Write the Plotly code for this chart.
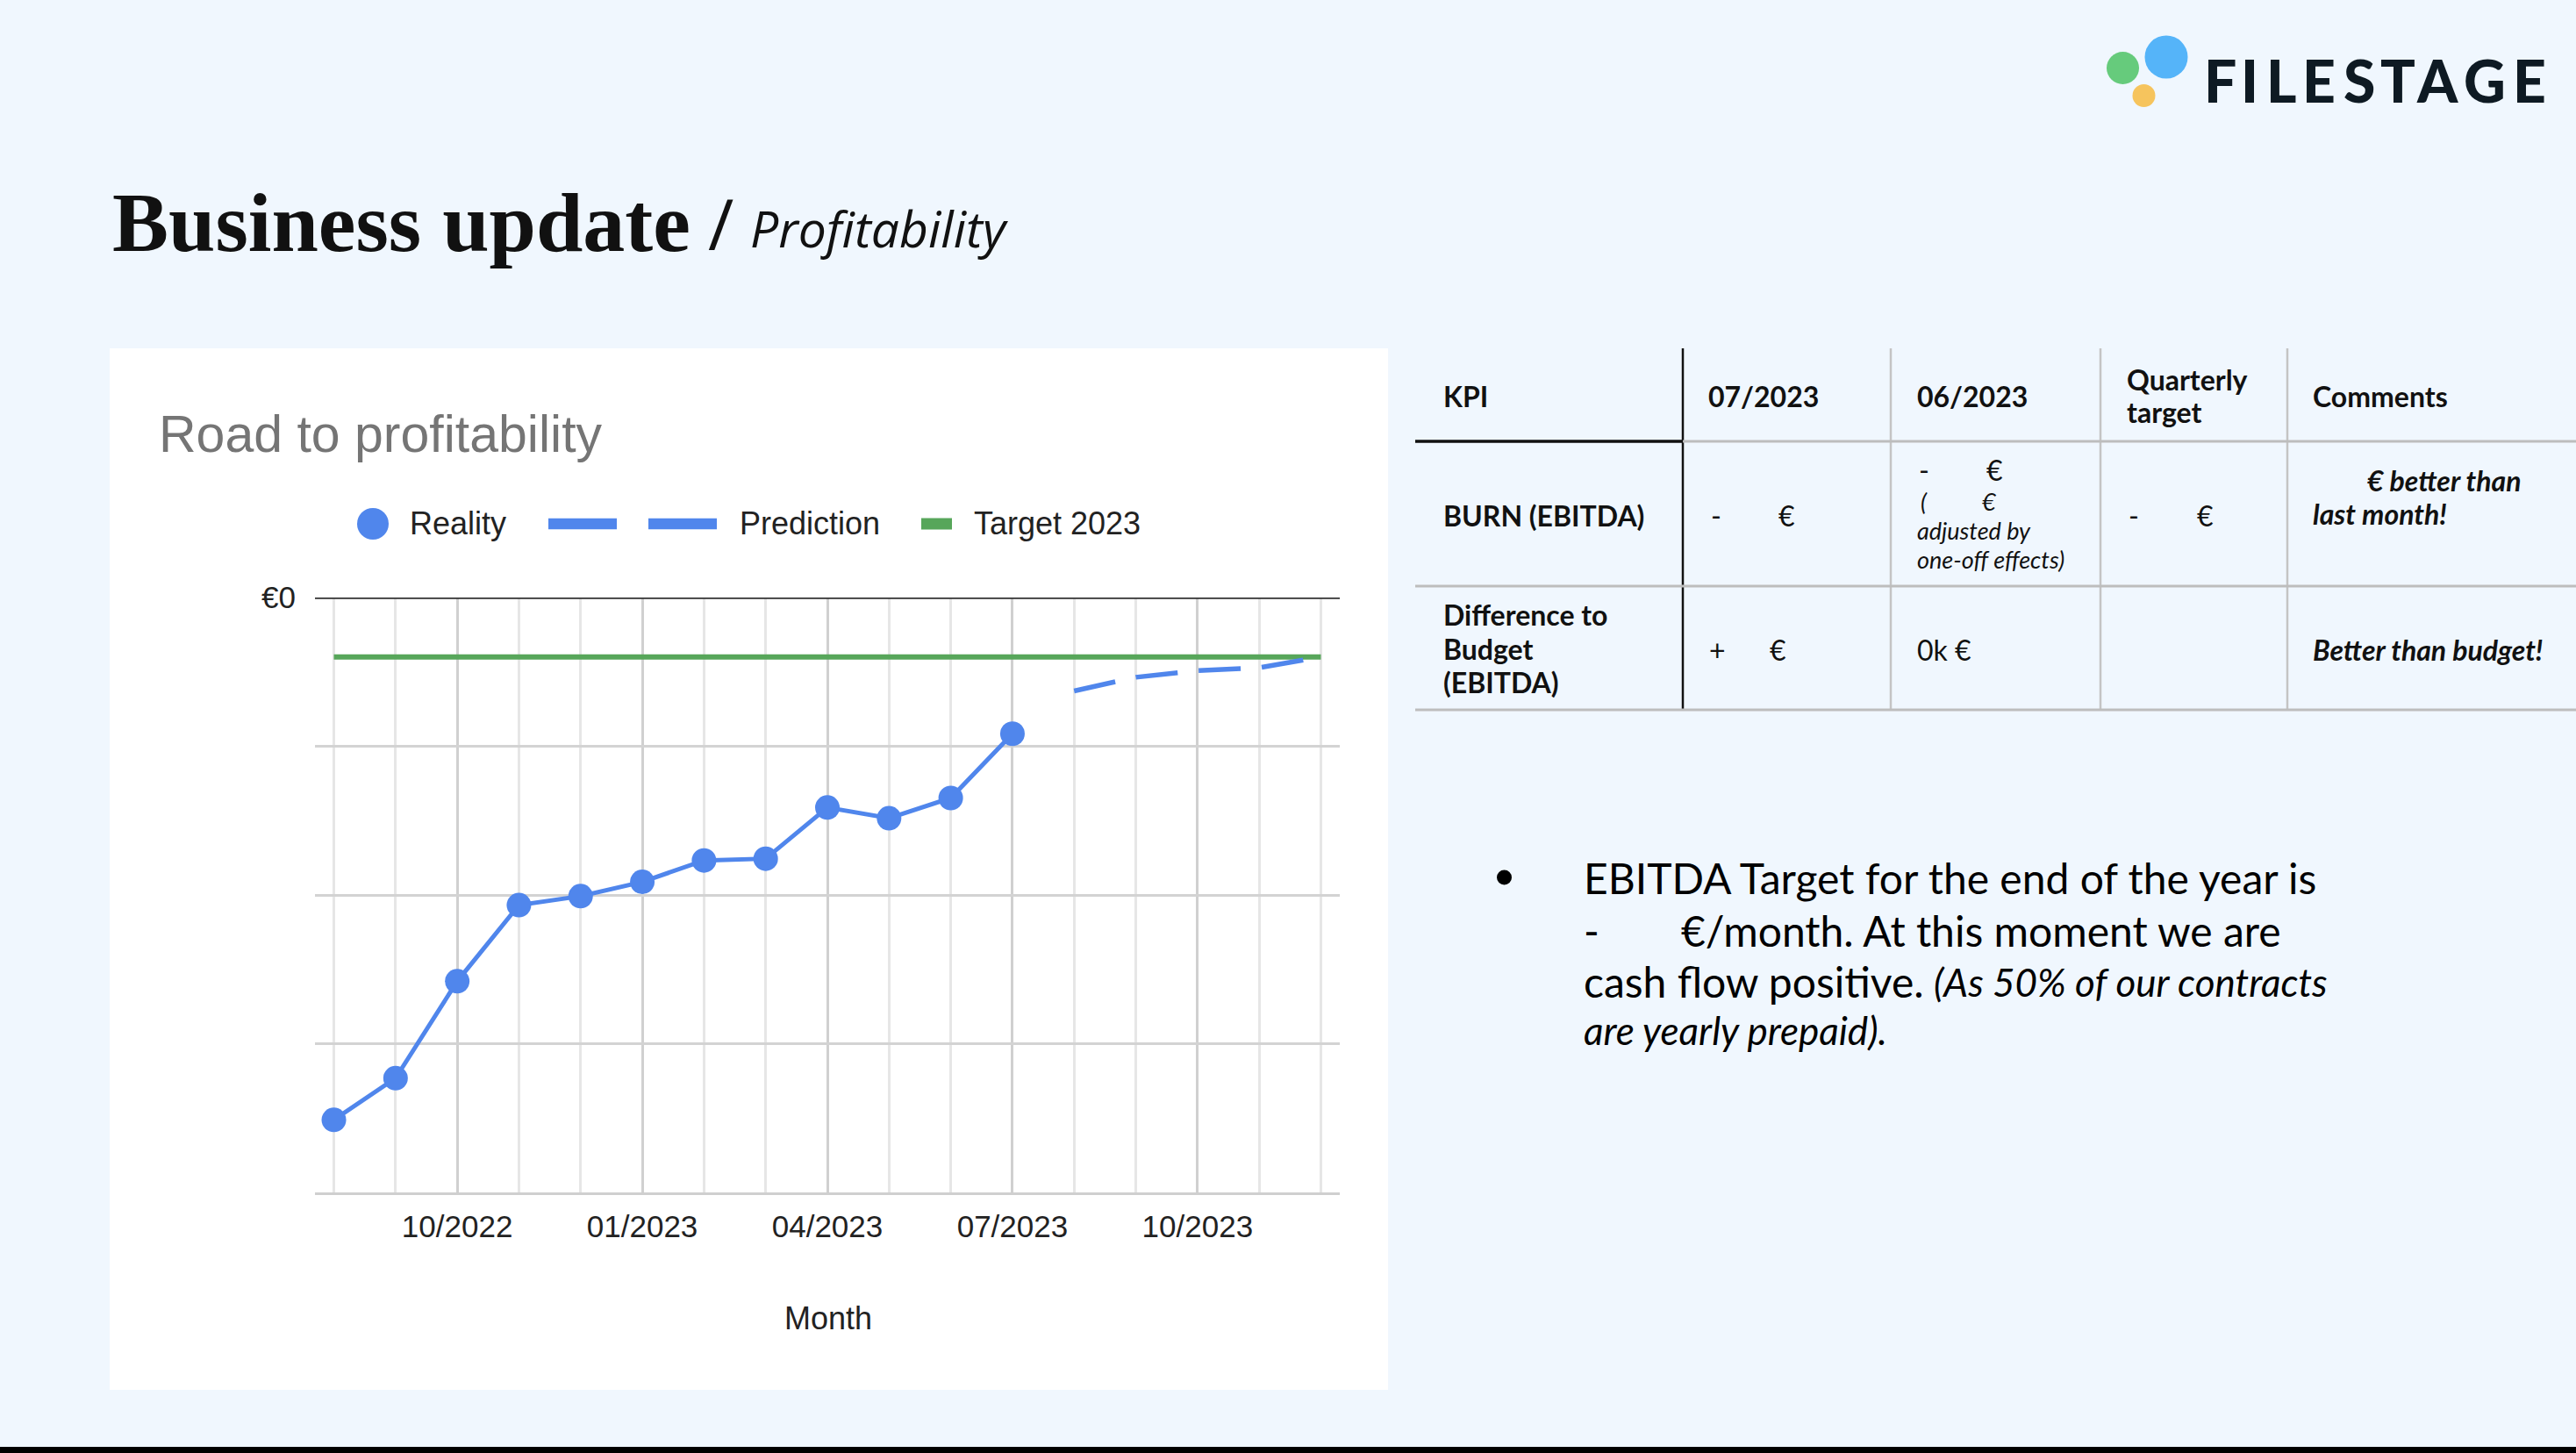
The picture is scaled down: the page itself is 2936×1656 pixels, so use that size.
import plotly.graph_objects as go

W, H = 2936, 1656

# ---------------- data ----------------
months = ["08/2022", "09/2022", "10/2022", "11/2022", "12/2022", "01/2023", "02/2023",
          "03/2023", "04/2023", "05/2023", "06/2023", "07/2023", "08/2023", "09/2023",
          "10/2023", "11/2023", "12/2023"]
reality_months = ["08/2022", "09/2022", "10/2022", "11/2022", "12/2022", "01/2023",
                  "02/2023", "03/2023", "04/2023", "05/2023", "06/2023", "07/2023"]
reality = [-87800, -80800, -64500, -51700, -50200, -47800, -44200, -43900,
           -35300, -37100, -33700, -22900]
prediction_months = ["08/2023", "09/2023", "10/2023", "11/2023", "12/2023"]
prediction = [-15700, -13400, -12300, -11800, -10000]
target = [-10000, -10000, -10000, -10000, -10000, -10000, -10000, -10000, -10000,
          -10000, -10000, -10000, -10000, -10000, -10000, -10000, -10000]
x_tick_labels = ["10/2022", "01/2023", "04/2023", "07/2023", "10/2023"]
y_tick_vals = [0, -25000, -50000, -75000, -100000]
y_tick_text = ["€0", "", "", "", ""]

# ---------------- helpers ----------------
def X(p):
    return p / W

def Y(p):
    return 1 - p / H

BLUE = "#5086EC"
GREEN = "#57A65A"
ARIAL = "Liberation Sans, Arial, sans-serif"
LATO = "Lato, sans-serif"

shapes = []
annotations = []

def rect(x0, y0, x1, y1, color, layer="above"):
    shapes.append(dict(type="rect", xref="paper", yref="paper", x0=X(x0), x1=X(x1),
                       y0=Y(y1), y1=Y(y0), fillcolor=color, line=dict(width=0), layer=layer))

def circle(cx, cy, d, color):
    r = d / 2
    shapes.append(dict(type="circle", xref="paper", yref="paper", x0=X(cx - r), x1=X(cx + r),
                       y0=Y(cy + r), y1=Y(cy - r), fillcolor=color, line=dict(width=0)))

def hline(x0, x1, y, color, w):
    shapes.append(dict(type="line", xref="paper", yref="paper", x0=X(x0), x1=X(x1),
                       y0=Y(y), y1=Y(y), line=dict(color=color, width=w)))

def vline(x, y0, y1, color, w):
    shapes.append(dict(type="line", xref="paper", yref="paper", x0=X(x), x1=X(x),
                       y0=Y(y0), y1=Y(y1), line=dict(color=color, width=w)))

def txt(s, x, y, size, family, color="#111111", anchor="left", weight="normal", style="normal"):
    annotations.append(dict(text=s, x=X(x), y=Y(y), xref="paper", yref="paper",
                            xanchor=anchor, yanchor="middle", showarrow=False, borderpad=0,
                            font=dict(size=size, family=family, color=color,
                                      weight=weight, style=style)))

# ---------------- slide decoration ----------------
rect(125, 397, 1582, 1584, "#FFFFFF", layer="below")      # chart panel
rect(0, 1649, W, H, "#000000")                              # bottom bar

# logo
circle(2419.5, 77.5, 37, "#66CB7C")
circle(2469, 65, 49, "#55B4F9")
circle(2443.5, 109, 26, "#F6C45D")
logo_letters = ["F", "I", "L", "E", "S", "T", "A", "G", "E"]
logo_centers = [2530.7, 2564.4, 2600.4, 2642.9, 2688.5, 2732.9, 2778.4, 2831.8, 2882.9]
for ch, cx in zip(logo_letters, logo_centers):
    txt(ch, cx, 91, 66, LATO, color="#0E1A23", anchor="center", weight=900)

# slide title
txt("Business update", 127, 253.5, 96, "Liberation Serif, serif", color="#111111", weight="bold")
txt("/", 806, 253, 80, "Open Sans, sans-serif", color="#111111")
txt("Profitability", 854, 260, 57, "Open Sans, sans-serif", color="#111111", style="italic")

# chart title + legend
txt("Road to profitability", 180, 495, 59, ARIAL, color="#757575")
circle(425, 597, 36, BLUE)
txt("Reality", 466, 597, 36, ARIAL, color="#222222")
rect(625, 590.7, 703, 603.3, BLUE)
rect(739, 590.7, 817, 603.3, BLUE)
txt("Prediction", 842, 597, 36, ARIAL, color="#222222")
rect(1050, 590.5, 1085, 603.5, GREEN)
txt("Target 2023", 1109, 597, 36, ARIAL, color="#222222")
txt("Month", 944, 1502, 36, ARIAL, color="#222222", anchor="center")

# ---------------- KPI table ----------------
TL, TR = 1613, W
vline(1918, 397, 809, "#111111", 2.5)
for vx in [2155, 2394, 2607]:
    vline(vx, 397, 809, "#C4C4C4", 2.5)
hline(1918, TR, 503, "#BDBDBD", 3)
hline(TL, 1918, 503, "#111111", 3.5)
hline(TL, TR, 668, "#BDBDBD", 3)
hline(TL, TR, 809, "#BDBDBD", 3)

TS = 32
# header
txt("KPI", 1644, 451, TS, LATO, weight="bold")
txt("07/2023", 1946, 451, TS, LATO, weight="bold")
txt("06/2023", 2184, 451, TS, LATO, weight="bold")
txt("Quarterly", 2423, 432, TS, LATO, weight="bold")
txt("target", 2423, 469, TS, LATO, weight="bold")
txt("Comments", 2635, 451, TS, LATO, weight="bold")
# row 1
txt("BURN (EBITDA)", 1644, 587, TS, LATO, weight="bold")
txt("-", 1949, 587, TS, LATO)
txt("€", 2026, 587, TS, LATO)
txt("-", 2186, 535, TS, LATO)
txt("€", 2263, 535, TS, LATO)
txt("(", 2188, 571, 27, LATO, style="italic")
txt("€", 2258, 571, 27, LATO, style="italic")
txt("adjusted by", 2184, 605, 27, LATO, style="italic")
txt("one-off effects)", 2184, 638, 27, LATO, style="italic")
txt("-", 2425, 587, TS, LATO)
txt("€", 2503, 587, TS, LATO)
txt("€ better than", 2697, 547, TS, LATO, weight="bold", style="italic")
txt("last month!", 2635, 585, TS, LATO, weight="bold", style="italic")
# row 2
txt("Difference to", 1644, 700, TS, LATO, weight="bold")
txt("Budget", 1644, 739, TS, LATO, weight="bold")
txt("(EBITDA)", 1644, 777, TS, LATO, weight="bold")
txt("+", 1947, 740, TS, LATO)
txt("€", 2016, 740, TS, LATO)
txt("0k €", 2184, 740, TS, LATO)
txt("Better than budget!", 2635, 740, TS, LATO, weight="bold", style="italic")

# ---------------- bullet text ----------------
circle(1714.5, 1000, 17, "#000000")
BS = 48
BI = 44
txt("EBITDA Target for the end of the year is", 1804, 1000, BS, LATO, color="#000000")
txt("-", 1804, 1060, BS, LATO, color="#000000")
txt("€/month. At this moment we are", 1915, 1060, BS, LATO, color="#000000")
txt("cash flow positive.", 1804, 1118.5, BS, LATO, color="#000000")
txt("(As 50% of our contracts", 2203, 1118.5, BI, LATO, color="#000000", style="italic")
txt("are yearly prepaid).", 1804, 1173.5, BI, LATO, color="#000000", style="italic")

# ---------------- chart ----------------
xr = [months.index(m) for m in reality_months]
xp = [months.index(m) for m in prediction_months]
xt = list(range(len(months)))
tickvals = [months.index(m) for m in x_tick_labels]

fig = go.Figure()
fig.add_trace(go.Scatter(x=xt, y=target, mode="lines", name="Target 2023",
                         line=dict(color=GREEN, width=6), hoverinfo="skip"))
fig.add_trace(go.Scatter(x=xp, y=prediction, mode="lines", name="Prediction",
                         line=dict(color=BLUE, width=5.5, dash="48px,24px")))
fig.add_trace(go.Scatter(x=xr, y=reality, mode="lines+markers", name="Reality",
                         line=dict(color=BLUE, width=5),
                         marker=dict(color=BLUE, size=28)))

# zero line (€0)
shapes.append(dict(type="line", xref="paper", yref="y", x0=X(359), x1=X(1527), y0=0, y1=0,
                   line=dict(color="#333333", width=3.5), layer="above"))

fig.update_layout(
    width=W, height=H,
    margin=dict(l=0, r=0, t=0, b=0, pad=0, autoexpand=False),
    paper_bgcolor="#F0F7FE",
    plot_bgcolor="#FFFFFF",
    showlegend=False,
    shapes=shapes,
    annotations=annotations,
    xaxis=dict(
        domain=[X(359), X(1527)],
        range=[-0.306, len(months) - 1 + 0.306],
        tickmode="array", tickvals=tickvals, ticktext=x_tick_labels,
        showgrid=True, gridcolor="#D0D0D0", gridwidth=3,
        minor=dict(tickmode="array", tickvals=xt, showgrid=True,
                   gridcolor="#E6E6E6", gridwidth=3, ticks=""),
        ticks="outside", ticklen=6, tickcolor="rgba(0,0,0,0)",
        showline=True, linecolor="#CFCFCF", linewidth=3,
        zeroline=False, automargin=False,
        tickfont=dict(family=ARIAL, size=35, color="#222222"),
        fixedrange=True,
    ),
    yaxis=dict(
        domain=[Y(1359), Y(681)],
        range=[-100000, 0],
        tickmode="array", tickvals=y_tick_vals, ticktext=y_tick_text,
        showgrid=True, gridcolor="#D3D3D3", gridwidth=3,
        zeroline=False, showline=False, automargin=False,
        ticks="outside", ticklen=14, tickcolor="rgba(0,0,0,0)",
        tickfont=dict(family=ARIAL, size=35, color="#222222"),
        fixedrange=True,
    ),
)

fig.write_html("out.html")
